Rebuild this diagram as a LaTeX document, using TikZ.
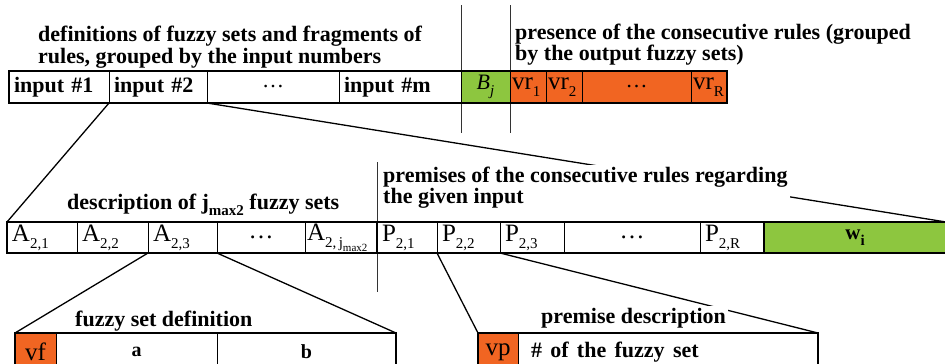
\documentclass[tikz,border=0pt]{standalone}
\usepackage{fontspec}
\setmainfont{Liberation Serif}
\definecolor{fsgreen}{RGB}{141,198,63}
\definecolor{fsorange}{RGB}{241,101,34}
\usetikzlibrary{positioning}
\newcommand\lowidx[2][15]{\raisebox{-0.28em}{\fontsize{#1}{#1}\selectfont #2}}
\tikzset{
  cell/.style={draw=black, line width=0.9pt, inner xsep=5pt, inner ysep=0pt,
    outer sep=0pt, anchor=west},
  rowframe/.style={line width=1.8pt},
  link/.style={line width=1.3pt},
  sepline/.style={line width=1pt, black!80},
  caption/.style={font=\fontsize{22}{21}\selectfont\bfseries, align=left,
    anchor=base west, fill=white, inner sep=2pt},
}

\begin{document}
\begin{tikzpicture}[x=1pt,y=-1pt]
  \useasboundingbox (0,0) rectangle (945,364);
  \clip (0,0) rectangle (945,364);

  % separators between the parts
  \draw[sepline] (461,5) -- (461,133);
  \draw[sepline] (510,5) -- (510,133);
  \draw[sepline] (377,162) -- (377,292);

  % top row: the whole record
  \foreach \xa/\xb/\nm/\fl/\al/\txt in {
    9/109/in1/white/left/{input \#1},
    109/207/in2/white/left/{input \#2},
    207/339/indots/white/center/{\textnormal{\dots}},
    339/461/inm/white/left/{input \#m},
    461/510/bj/fsgreen/center/{\textnormal{\textit{B}\lowidx{\textit{j}}}},
    510/546/vr1/fsorange/left/{\hspace*{-3pt}\textnormal{\fontsize{25}{26}\selectfont vr\lowidx{1}}},
    546/582/vr2/fsorange/left/{\hspace*{-3pt}\textnormal{\fontsize{25}{26}\selectfont vr\lowidx{2}}},
    582/691/vrdots/fsorange/center/{\textnormal{\dots}},
    691/727/vrR/fsorange/left/{\hspace*{-3pt}\textnormal{\fontsize{25}{26}\selectfont vr\lowidx{R}}}} {
    \pgfmathsetmacro\cellw{\xb-\xa-10}
    \node[cell, fill=\fl, text width=\cellw pt, align=\al, minimum height=32pt,
      font=\fontsize{22}{24}\selectfont\bfseries] (\nm) at (\xa,87) {\txt};
  }

  % middle row: one input
  \foreach \xa/\xb/\nm/\fl/\al/\txt in {
    7/77/a21/white/left/{A\lowidx{2,1}},
    77/148/a22/white/left/{A\lowidx{2,2}},
    148/217/a23/white/left/{A\lowidx{2,3}},
    217/305/adots/white/center/{\dots},
    305/377/ajm/white/left/{\hspace*{-3pt}A\lowidx{2,\,j\lowidx[11]{max2}}},
    377/437/p21/white/left/{P\lowidx{2,1}},
    437/500/p22/white/left/{P\lowidx{2,2}},
    500/564/p23/white/left/{P\lowidx{2,3}},
    564/700/pdots/white/center/{\dots},
    700/764/p2R/white/left/{P\lowidx{2,R}},
    764/946/w/fsgreen/center/{\fontsize{21}{22}\selectfont\bfseries w\lowidx{i}}} {
    \pgfmathsetmacro\cellw{\xb-\xa-10}
    \node[cell, fill=\fl, text width=\cellw pt, align=\al, minimum height=31pt,
      font=\fontsize{25}{26}\selectfont] (\nm) at (\xa,237.5) {\txt};
  }

  % bottom row: fuzzy set and premise
  \foreach \xa/\xb/\nm/\fl/\al/\txt in {
    15/56/vf/fsorange/center/{vf},
    56/217/fa/white/center/{\fontsize{20}{22}\selectfont\bfseries a},
    217/396/fb/white/center/{\fontsize{20}{22}\selectfont\bfseries b},
    478/518/vp/fsorange/center/{vp},
    518/818/fs/white/left/{\hspace*{8pt}\bfseries\fontsize{22}{24}\selectfont\# of the fuzzy set}} {
    \pgfmathsetmacro\cellw{\xb-\xa-10}
    \node[cell, fill=\fl, text width=\cellw pt, align=\al, minimum height=38pt,
      font=\fontsize{25}{26}\selectfont] (\nm) at (\xa,352) {\txt};
  }

  % zoom-in connectors
  \draw[link] (in2.south west) -- (a21.north west);
  \draw[link] (in2.south east) -- (w.north east);
  \draw[link] (a23.south west) -- (vf.north west);
  \draw[link] (a23.south east) -- (fb.north east);
  \draw[link] (p22.south west) -- (vp.north west);
  \draw[link] (p22.south east) -- (fs.north east);

  % captions, on white over the connectors
  \node[caption] (defcap) at (36,63) {definitions of fuzzy sets and fragments of\\rules, grouped by the input numbers};
  \node[caption] (prescap) at (513,60) {presence of the consecutive rules (grouped\\by the output fuzzy sets)};
  \node[caption] (desccap) at (65,209) {description of j\lowidx[15]{max2} fuzzy sets};
  \node[caption] (premcap) at (381,203) {premises of the consecutive rules regarding\\the given input};
  \node[caption] (fsdcap) at (73,326) {fuzzy set definition};
  \node[caption] (pdcap) at (539,323) {premise description};

  % thick outlines of the rows
  \draw[rowframe] (in1.north west) rectangle (vrR.south east);
  \draw[rowframe] (a21.north west) rectangle (w.south east);
  \draw[rowframe] (ajm.north east) -- (ajm.south east);
  \draw[rowframe] (p2R.north east) -- (p2R.south east);
  \draw[rowframe] (vf.north west) rectangle (fb.south east);
  \draw[rowframe] (vp.north west) rectangle (fs.south east);
\end{tikzpicture}
\end{document}
